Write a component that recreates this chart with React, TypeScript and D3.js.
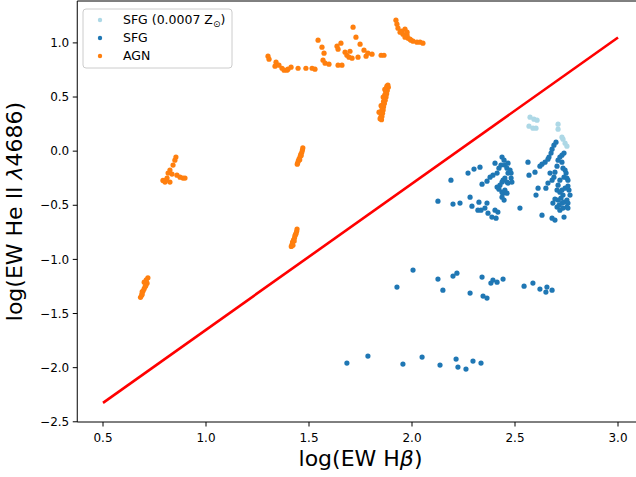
import React, { useEffect } from "react";
import * as d3 from "d3";

// ---------- data ----------
const lineX = [0.5, 3.0];
const lineY = [-2.325, 1.05];

const xTicks = [0.5, 1.0, 1.5, 2.0, 2.5, 3.0];
const yTicks = [-2.5, -2.0, -1.5, -1.0, -0.5, 0.0, 0.5, 1.0];

const sfgLowZ: [number, number][] = [
  [2.573, 0.314], [2.592, 0.295], [2.607, 0.286], [2.568, 0.231], [2.587, 0.212], [2.602, 0.212],
  [2.709, 0.249], [2.709, 0.203], [2.728, 0.129], [2.733, 0.111], [2.743, 0.074], [2.752, 0.046],
];

const sfg: [number, number][] = [
  // upper-left cluster
  [2.126, -0.462], [2.189, -0.268], [2.199, -0.489], [2.233, -0.48], [2.272, -0.203], [2.301, -0.166],
  [2.33, -0.148], [2.282, -0.425], [2.291, -0.508], [2.325, -0.471], [2.32, -0.545], [2.335, -0.545],
  [2.354, -0.526], [2.364, -0.48], [2.369, -0.573], [2.388, -0.609], [2.403, -0.545], [2.408, -0.619],
  [2.417, -0.563], [2.34, -0.305], [2.364, -0.277], [2.379, -0.24], [2.393, -0.222], [2.403, -0.111],
  [2.413, -0.203], [2.422, -0.157], [2.432, -0.129], [2.437, -0.055], [2.447, -0.083], [2.451, -0.129],
  [2.461, -0.157], [2.466, -0.111], [2.466, -0.203], [2.476, -0.175], [2.481, -0.249], [2.451, -0.249],
  [2.442, -0.268], [2.437, -0.286], [2.461, -0.286], [2.427, -0.314], [2.413, -0.332], [2.422, -0.351],
  [2.437, -0.379], [2.442, -0.388], [2.451, -0.36], [2.466, -0.295], [2.485, -0.286], [2.437, -0.425],
  [2.447, -0.452], [2.461, -0.388], [2.481, -0.203], [2.524, -0.526],
  // upper-right cluster
  [2.563, -0.102], [2.568, -0.222], [2.597, -0.194], [2.621, -0.139], [2.631, -0.12], [2.646, -0.102],
  [2.66, -0.074], [2.665, -0.055], [2.675, -0.018], [2.68, 0.018], [2.689, 0.055], [2.699, 0.083],
  [2.612, -0.342], [2.602, -0.406], [2.65, -0.342], [2.66, -0.295], [2.67, -0.203], [2.68, -0.268],
  [2.689, -0.24], [2.694, -0.194], [2.704, -0.139], [2.709, -0.083], [2.718, -0.055], [2.728, -0.037],
  [2.738, -0.018], [2.728, -0.102], [2.733, -0.157], [2.743, -0.175], [2.748, -0.203], [2.738, -0.24],
  [2.752, -0.249], [2.757, -0.268], [2.718, -0.268], [2.709, -0.314], [2.704, -0.36], [2.718, -0.379],
  [2.728, -0.36], [2.743, -0.342], [2.757, -0.323], [2.762, -0.36], [2.767, -0.406], [2.733, -0.406],
  [2.723, -0.434], [2.709, -0.452], [2.694, -0.443], [2.684, -0.48], [2.704, -0.517], [2.714, -0.499],
  [2.728, -0.48], [2.738, -0.471], [2.752, -0.452], [2.757, -0.48], [2.752, -0.517], [2.733, -0.526],
  [2.718, -0.545], [2.757, -0.526], [2.631, -0.591], [2.68, -0.619], [2.694, -0.637], [2.738, -0.609],
  // middle row
  [1.927, -1.256], [2.005, -1.099], [2.126, -1.182], [2.15, -1.284], [2.199, -1.154], [2.218, -1.127],
  [2.282, -1.311], [2.34, -1.163], [2.345, -1.339], [2.364, -1.357], [2.383, -1.219], [2.393, -1.191],
  [2.413, -1.21], [2.442, -1.182], [2.544, -1.247], [2.587, -1.219], [2.621, -1.274], [2.65, -1.302],
  [2.655, -1.256], [2.68, -1.284],
  // bottom row
  [1.684, -1.958], [1.786, -1.893], [1.956, -1.967], [2.049, -1.902], [2.136, -1.976], [2.214, -1.921],
  [2.223, -1.995], [2.262, -2.013], [2.296, -1.939], [2.335, -1.958],
];

const agn: [number, number][] = [
  // group near (0.7, -1.25)
  [0.718, -1.17], [0.71, -1.19], [0.714, -1.22], [0.7, -1.21], [0.705, -1.25], [0.7, -1.27],
  [0.695, -1.29], [0.69, -1.3], [0.688, -1.33], [0.682, -1.35], [0.69, -1.32], [0.708, -1.24],
  // group near (0.85, -0.2)
  [0.854, -0.055], [0.849, -0.083], [0.84, -0.129], [0.825, -0.175], [0.816, -0.203], [0.811, -0.249],
  [0.801, -0.286], [0.825, -0.286], [0.859, -0.222], [0.874, -0.24], [0.888, -0.249], [0.835, -0.212],
  [0.806, -0.268], [0.898, -0.249], [0.791, -0.27],
  // group near (1.43, -0.8)
  [1.442, -0.72], [1.44, -0.74], [1.437, -0.76], [1.432, -0.78], [1.43, -0.8], [1.425, -0.82],
  [1.42, -0.84], [1.418, -0.86], [1.414, -0.88], [1.428, -0.83], [1.435, -0.77], [1.422, -0.87],
  // group near (1.46, -0.05)
  [1.47, 0.03], [1.468, 0.01], [1.465, -0.01], [1.46, -0.03], [1.457, -0.05], [1.452, -0.07],
  [1.448, -0.09], [1.445, -0.11], [1.443, -0.12], [1.462, -0.04], [1.455, -0.08],
  // group near (1.86, 0.45)
  [1.883, 0.61], [1.878, 0.6], [1.885, 0.59], [1.875, 0.58], [1.88, 0.56], [1.872, 0.55], [1.877, 0.53],
  [1.868, 0.52], [1.874, 0.5], [1.865, 0.49], [1.87, 0.47], [1.862, 0.46], [1.866, 0.44], [1.858, 0.43],
  [1.862, 0.41], [1.855, 0.4], [1.86, 0.38], [1.852, 0.37], [1.857, 0.35], [1.85, 0.34], [1.854, 0.32],
  [1.848, 0.31], [1.852, 0.29], [1.845, 0.3], [1.86, 0.5], [1.868, 0.57], [1.85, 0.42], [1.84, 0.36],
  // arc 1.3 - 1.86
  [1.301, 0.877], [1.306, 0.85], [1.34, 0.822], [1.335, 0.785], [1.354, 0.794], [1.369, 0.766],
  [1.379, 0.748], [1.393, 0.748], [1.398, 0.757], [1.413, 0.776], [1.447, 0.766], [1.485, 0.766],
  [1.515, 0.766], [1.529, 0.757], [1.544, 1.025], [1.563, 0.96], [1.573, 0.905], [1.568, 0.84],
  [1.578, 0.813], [1.597, 0.803], [1.641, 0.794], [1.66, 0.794], [1.636, 0.97], [1.655, 0.997],
  [1.641, 0.942], [1.675, 0.914], [1.684, 0.886], [1.699, 0.923], [1.694, 0.868], [1.709, 0.859],
  [1.714, 1.145], [1.728, 1.053], [1.748, 0.988], [1.738, 0.868], [1.767, 0.933], [1.777, 0.877],
  [1.786, 0.905], [1.806, 0.896], [1.85, 0.886], [1.864, 0.886],
  // top-right group near (1.97, 1.05)
  [1.922, 1.21], [1.927, 1.173], [1.932, 1.136], [1.966, 1.127], [1.951, 1.108], [1.956, 1.08],
  [1.976, 1.071], [1.981, 1.043], [1.99, 1.034], [2.005, 1.016], [2.024, 1.007], [2.039, 1.007],
  [2.053, 0.997], [1.966, 1.053], [1.976, 1.099], [1.942, 1.099], [1.995, 1.025],
];

const legendLabels = ["SFG (0.0007 Z", "SFG", "AGN"];

// ---------- styles ----------
const W = 636;
const H = 477;
const COLORS = { lowZ: "#add8e6", sfg: "#1f77b4", agn: "#ff7f0e" };
const FONT = "DejaVu Sans, sans-serif";

export default function App() {
  useEffect(() => {
    document.body.style.margin = "0";
  }, []);

  const x = d3.scaleLinear().domain([0.375, 3.125]).range([77.25, 643.75]);
  const y = d3.scaleLinear().domain([-2.502, 1.387]).range([422, 1]);

  const line = d3
    .line<number>()
    .x((d) => x(d))
    .y((_, i) => y(lineY[i]));

  const fmt = (v: number) => (v < 0 ? "\u2212" + Math.abs(v).toFixed(1) : v.toFixed(1));
  const r = 2.6;

  const series = [
    { data: sfgLowZ, color: COLORS.lowZ },
    { data: sfg, color: COLORS.sfg },
    { data: agn, color: COLORS.agn },
  ];
  const legendColors = [COLORS.lowZ, COLORS.sfg, COLORS.agn];

  return (
    <svg width={W} height={H} style={{ display: "block", background: "#fff" }} fontFamily={FONT}>
      <rect x={0} y={0} width={W} height={H} fill="#fff" />
      {/* points */}
      {series.map((s, si) => (
        <g key={si}>
          {s.data.map((d, i) => (
            <circle key={i} cx={x(d[0])} cy={y(d[1])} r={r} fill={s.color} />
          ))}
        </g>
      ))}
      {/* red line */}
      <path d={line(lineX) || ""} stroke="red" strokeWidth={2.6} fill="none" />

      {/* spines */}
      <g stroke="#000" strokeWidth={1} fill="none">
        <line x1={x.range()[0]} x2={x.range()[0]} y1={y.range()[0]} y2={y.range()[1]} />
        <line x1={x.range()[0]} x2={W} y1={y.range()[0]} y2={y.range()[0]} />
        <line x1={x.range()[0]} x2={W} y1={y.range()[1]} y2={y.range()[1]} />
      </g>

      {/* x ticks */}
      {xTicks.map((t) => (
        <g key={"x" + t} transform={`translate(${x(t)},${y.range()[0]})`}>
          <line y1={0} y2={4.5} stroke="#000" strokeWidth={1} />
          <text y={20} textAnchor="middle" fontSize={12} fill="#000">
            {fmt(t)}
          </text>
        </g>
      ))}
      {/* y ticks */}
      {yTicks.map((t) => (
        <g key={"y" + t} transform={`translate(${x.range()[0]},${y(t)})`}>
          <line x1={0} x2={-4.5} stroke="#000" strokeWidth={1} />
          <text x={-8} dy="0.35em" textAnchor="end" fontSize={12} fill="#000">
            {fmt(t)}
          </text>
        </g>
      ))}

      {/* axis labels */}
      <text x={(x.range()[0] + x.range()[1]) / 2} y={466} textAnchor="middle" fontSize={22} fill="#000">
        log(EW H<tspan fontStyle="italic">β</tspan>)
      </text>
      <text
        transform={`translate(${22},${(y.range()[0] + y.range()[1]) / 2}) rotate(-90)`}
        textAnchor="middle"
        fontSize={22}
        fill="#000"
      >
        log(EW He II <tspan fontStyle="italic">λ</tspan>4686)
      </text>

      {/* legend */}
      <g>
        <rect x={83} y={9} width={149} height={59} rx={3} fill="#fff" fillOpacity={0.8} stroke="#cccccc" strokeWidth={1} />
        {legendLabels.map((lab, i) => (
          <g key={lab} transform={`translate(0,${20 + i * 18})`}>
            <circle cx={100} cy={0} r={2.2} fill={legendColors[i]} />
            <text x={123} dy="0.35em" fontSize={12.5} fill="#000">
              {lab}
              {i === 0 ? (
                <>
                  <tspan fontSize={9} dy="3">⊙</tspan>
                  <tspan dy="-3">)</tspan>
                </>
              ) : null}
            </text>
          </g>
        ))}
      </g>
    </svg>
  );
}
